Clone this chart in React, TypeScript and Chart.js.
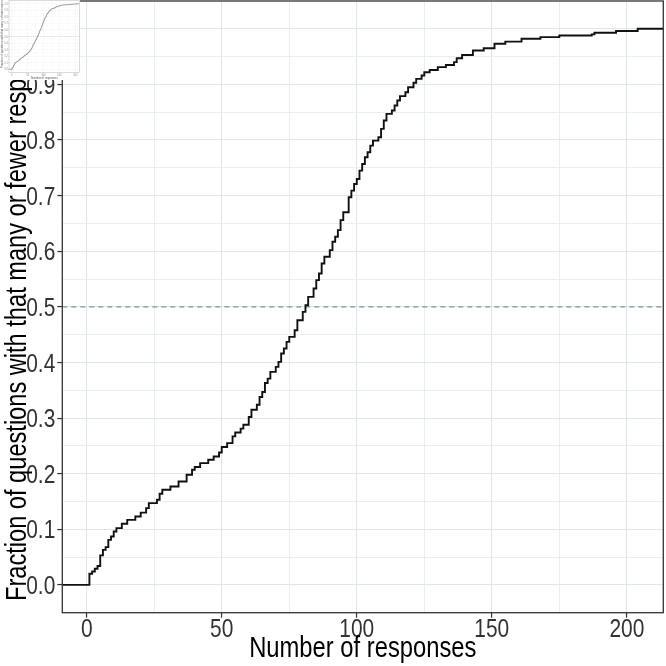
import React, { useEffect, useRef } from 'react';
import { Chart, registerables } from 'chart.js';

Chart.register(...registerables);

// ---- data ----
const responses = [1, 2, 3, 4, 5, 6, 7, 8, 9, 10, 11, 13, 15, 18, 20, 22, 23, 26, 27, 28, 31, 34, 37, 39,
  40, 42, 45, 47, 49, 50, 52, 54, 55, 57, 58, 60,
  61, 63, 64, 65, 66, 67, 68, 70, 71, 72, 73, 74, 75, 77, 78, 80,
  81, 82, 84, 85, 86, 87, 88, 90, 91, 92, 93, 94, 95, 97, 98, 99, 100,
  101, 102, 103, 104, 105, 106, 108, 109, 110, 111, 113, 114, 115, 116, 118, 119, 121, 122, 124, 125, 127, 130,
  133, 136, 137, 139, 143, 147, 151, 155, 161, 168, 175, 187, 188, 196, 204];
const fractions = [0.020, 0.024, 0.029, 0.034, 0.053, 0.063, 0.068, 0.081, 0.087, 0.096, 0.102,
  0.110, 0.117, 0.123, 0.130, 0.138, 0.147, 0.153, 0.164, 0.171, 0.177, 0.186, 0.198, 0.207,
  0.212, 0.219, 0.225, 0.231, 0.238, 0.248, 0.255, 0.267, 0.274, 0.281, 0.288, 0.302,
  0.315, 0.324, 0.338, 0.347, 0.363, 0.371, 0.383, 0.392, 0.401, 0.416, 0.425, 0.437, 0.446, 0.458, 0.476, 0.491,
  0.503, 0.518, 0.533, 0.548, 0.560, 0.578, 0.590, 0.602, 0.617, 0.626, 0.638, 0.656, 0.670, 0.697, 0.709, 0.721, 0.730,
  0.745, 0.757, 0.769, 0.778, 0.790, 0.799, 0.805, 0.820, 0.835, 0.847, 0.853, 0.862, 0.871, 0.879, 0.886, 0.895,
  0.903, 0.910, 0.916, 0.922, 0.926, 0.931,
  0.935, 0.940, 0.947, 0.953, 0.961, 0.965, 0.973, 0.977, 0.982, 0.985, 0.988, 0.990, 0.993, 0.996, 1.000];
const xMajorTicks = [0, 50, 100, 150, 200];
const xTickLabels = ['0', '50', '100', '150', '200'];
const yMajorTicks = [0, 0.1, 0.2, 0.3, 0.4, 0.5, 0.6, 0.7, 0.8, 0.9, 1.0];
const yTickLabels = ['0.0', '0.1', '0.2', '0.3', '0.4', '0.5', '0.6', '0.7', '0.8', '0.9', '1.0'];
const referenceFraction = 0.5;
const xLimits = [-9.04, 213.5];
const yLimits = [-0.05, 1.05];
const xTitle = 'Number of responses';
const yTitle = 'Fraction of questions with that many or fewer responses';

const FONT = "'Liberation Sans', Arial, Helvetica, sans-serif";

function withMinor(majors: number[]): number[] {
  const out: number[] = [];
  majors.forEach((v, i) => {
    out.push(v);
    if (i < majors.length - 1) out.push((v + majors[i + 1]) / 2);
  });
  return out;
}
const xGrid = withMinor(xMajorTicks);
const yGrid = withMinor(yMajorTicks);
const isMajor = (v: number, majors: number[]) => majors.some((m) => Math.abs(m - v) < 1e-9);

const ecdfPoints = [
  { x: xLimits[0], y: 0 },
  ...responses.map((r, i) => ({ x: r, y: fractions[i] })),
  { x: xLimits[1], y: fractions[fractions.length - 1] },
];
const refPoints = [
  { x: xLimits[0], y: referenceFraction },
  { x: xLimits[1], y: referenceFraction },
];

interface Look {
  width: number; height: number;
  area: { left: number; top: number; right: number; bottom: number };
  sx: number;
  tickSize: number; tickColor: string; tickMark: string; tickLen: number; tickWidth: number;
  xTickGap: number; yTickGap: number;
  xTitleSize: number; xTitleBase: number; titleColor: string;
  yTitleSize: number; yTitleX: number; yTitleY: number;
  line: { color: string; width: number };
  ref: { color: string; width: number; dash: number[] };
  grid: { major: string; minor: string; majorW: number; minorW: number };
  frame: { color: string; width: number };
}

const mainLook: Look = {
  width: 666, height: 666,
  area: { left: 62.3, top: 1, right: 663.3, bottom: 612.7 },
  sx: 0.82,
  tickSize: 25.5, tickColor: '#333333', tickMark: '#333333', tickLen: 5, tickWidth: 1.2,
  xTickGap: 1.5, yTickGap: 2,
  xTitleSize: 29, xTitleBase: 657, titleColor: '#000000',
  yTitleSize: 28.8, yTitleX: 25.5, yTitleY: 601,
  line: { color: '#111111', width: 1.9 },
  ref: { color: '#7f9693', width: 1.2, dash: [5, 4] },
  grid: { major: '#e0e7ea', minor: '#e6ecee', majorW: 1.1, minorW: 0.9 },
  frame: { color: '#333333', width: 1.3 },
};

const insetLook: Look = {
  width: 80, height: 80,
  area: { left: 9, top: 0.5, right: 79.5, bottom: 72.5 },
  sx: 0.82,
  tickSize: 3, tickColor: '#8a8a8a', tickMark: '#9a9a9a', tickLen: 0.8, tickWidth: 0.4,
  xTickGap: 0.3, yTickGap: 0.4,
  xTitleSize: 3.4, xTitleBase: 79, titleColor: '#555555',
  yTitleSize: 3.6, yTitleX: 3, yTitleY: 68,
  line: { color: '#7a7a7a', width: 0.7 },
  ref: { color: '#b8c4c4', width: 0.5, dash: [1.2, 1] },
  grid: { major: '#edf1f2', minor: '#f1f4f5', majorW: 0.4, minorW: 0.3 },
  frame: { color: '#c4c4c4', width: 0.6 },
};

function drawText(ctx: CanvasRenderingContext2D, text: string, x: number, y: number, align: CanvasTextAlign, sx: number, rot = 0) {
  ctx.save();
  ctx.translate(x, y);
  if (rot) ctx.rotate(rot);
  ctx.scale(sx, 1);
  ctx.textAlign = align;
  ctx.textBaseline = 'alphabetic';
  ctx.fillText(text, 0, 0);
  ctx.restore();
}

function buildConfig(look: Look): any {
  const a = look.area;
  const framePlugin = {
    id: 'frameAndText',
    beforeDraw(chart: any) {
      const ctx = chart.ctx;
      ctx.save();
      ctx.fillStyle = '#ffffff';
      ctx.fillRect(0, 0, chart.width, chart.height);
      ctx.restore();
    },
    afterDatasetsDraw(chart: any) {
      const ctx = chart.ctx;
      const ca = chart.chartArea;
      ctx.save();
      ctx.strokeStyle = look.frame.color;
      ctx.lineWidth = look.frame.width;
      ctx.strokeRect(ca.left, ca.top, ca.right - ca.left, ca.bottom - ca.top);
      ctx.restore();
    },
    afterDraw(chart: any) {
      const ctx: CanvasRenderingContext2D = chart.ctx;
      const ca = chart.chartArea;
      const xs = chart.scales.x;
      const ys = chart.scales.y;
      const cap = look.tickSize * 0.716;
      ctx.save();
      ctx.fillStyle = look.tickColor;
      ctx.font = `${look.tickSize}px ${FONT}`;
      xMajorTicks.forEach((v, i) => {
        drawText(ctx, xTickLabels[i], xs.getPixelForValue(v), ca.bottom + look.tickLen + look.xTickGap + cap, 'center', look.sx);
      });
      yMajorTicks.forEach((v, i) => {
        drawText(ctx, yTickLabels[i], ca.left - look.tickLen - look.yTickGap, ys.getPixelForValue(v) + cap / 2, 'right', look.sx);
      });
      ctx.fillStyle = look.titleColor;
      ctx.font = `${look.xTitleSize}px ${FONT}`;
      drawText(ctx, xTitle, (ca.left + ca.right) / 2, look.xTitleBase, 'center', look.sx);
      ctx.font = `${look.yTitleSize}px ${FONT}`;
      drawText(ctx, yTitle, look.yTitleX, look.yTitleY, 'left', look.sx, -Math.PI / 2);
      ctx.restore();
    },
  };

  const gridOpts = (majors: number[]) => ({
    drawOnChartArea: true,
    drawTicks: true,
    color: (c: any) => (c.tick && isMajor(c.tick.value, majors) ? look.grid.major : look.grid.minor),
    lineWidth: (c: any) => (c.tick && isMajor(c.tick.value, majors) ? look.grid.majorW : look.grid.minorW),
    tickColor: (c: any) => (c.tick && isMajor(c.tick.value, majors) ? look.tickMark : 'rgba(0,0,0,0)'),
    tickLength: look.tickLen,
    tickWidth: look.tickWidth,
  });

  return {
    type: 'line',
    data: {
      datasets: [
        {
          data: ecdfPoints,
          stepped: 'before',
          borderColor: look.line.color,
          borderWidth: look.line.width,
          pointRadius: 0,
          fill: false,
        },
        {
          data: refPoints,
          borderColor: look.ref.color,
          borderWidth: look.ref.width,
          borderDash: look.ref.dash,
          pointRadius: 0,
          fill: false,
        },
      ],
    },
    options: {
      animation: false,
      responsive: false,
      devicePixelRatio: 1,
      events: [],
      layout: { padding: { left: 0, top: a.top, right: look.width - a.right, bottom: 0 } },
      plugins: { legend: { display: false }, tooltip: { enabled: false }, title: { display: false } },
      scales: {
        x: {
          type: 'linear',
          min: xLimits[0],
          max: xLimits[1],
          afterBuildTicks: (s: any) => { s.ticks = xGrid.map((v) => ({ value: v })); },
          afterFit: (s: any) => { s.height = look.height - a.bottom; s.paddingLeft = 0; s.paddingRight = 0; },
          grid: gridOpts(xMajorTicks),
          border: { display: false },
          ticks: { display: false },
          title: { display: false },
        },
        y: {
          type: 'linear',
          min: yLimits[0],
          max: yLimits[1],
          afterBuildTicks: (s: any) => { s.ticks = yGrid.map((v) => ({ value: v })); },
          afterFit: (s: any) => { s.width = a.left; s.paddingTop = 0; s.paddingBottom = 0; },
          grid: gridOpts(yMajorTicks),
          border: { display: false },
          ticks: { display: false },
          title: { display: false },
        },
      },
    },
    plugins: [framePlugin],
  };
}

function ChartCanvas({ look }: { look: Look }) {
  const ref = useRef<HTMLCanvasElement | null>(null);
  useEffect(() => {
    if (!ref.current) return;
    const chart = new Chart(ref.current, buildConfig(look));
    return () => chart.destroy();
  }, [look]);
  return (
    <canvas
      ref={ref}
      width={look.width}
      height={look.height}
      style={{ position: 'absolute', left: 0, top: 0, width: look.width, height: look.height, display: 'block' }}
    />
  );
}

export default function App() {
  return (
    <div style={{ position: 'fixed', left: 0, top: 0, width: 666, height: 666, background: '#ffffff', overflow: 'hidden' }}>
      <ChartCanvas look={mainLook} />
      <ChartCanvas look={insetLook} />
    </div>
  );
}
